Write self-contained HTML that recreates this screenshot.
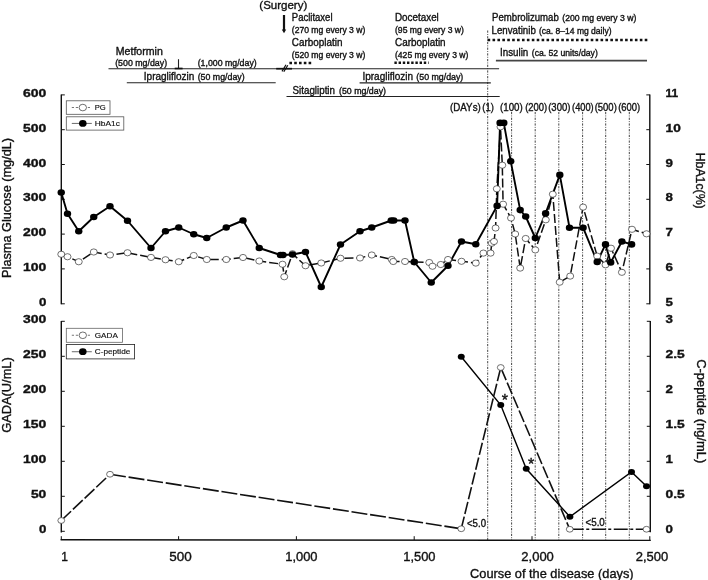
<!DOCTYPE html>
<html lang="en"><head><meta charset="utf-8"><title>Course of the disease</title>
<style>html,body{margin:0;padding:0;background:#fff;}svg{display:block;}text{font-family:"Liberation Sans", sans-serif;fill:#111;stroke:#111;stroke-width:0.35px;}</style>
</head><body>
<svg width="708" height="580" viewBox="0 0 708 580">
<rect width="708" height="580" fill="#fff"/>
<line x1="487.7" y1="30.5" x2="487.7" y2="540" stroke="#222" stroke-width="0.85" stroke-dasharray="2.2 1.3 0.9 1.3"/>
<line x1="511.6" y1="112" x2="511.6" y2="540" stroke="#222" stroke-width="0.85" stroke-dasharray="2.2 1.3 0.9 1.3"/>
<line x1="535.2" y1="112" x2="535.2" y2="540" stroke="#222" stroke-width="0.85" stroke-dasharray="2.2 1.3 0.9 1.3"/>
<line x1="558.8" y1="112" x2="558.8" y2="540" stroke="#222" stroke-width="0.85" stroke-dasharray="2.2 1.3 0.9 1.3"/>
<line x1="582.6" y1="112" x2="582.6" y2="540" stroke="#222" stroke-width="0.85" stroke-dasharray="2.2 1.3 0.9 1.3"/>
<line x1="605.7" y1="112" x2="605.7" y2="540" stroke="#222" stroke-width="0.85" stroke-dasharray="2.2 1.3 0.9 1.3"/>
<line x1="629.3" y1="112" x2="629.3" y2="540" stroke="#222" stroke-width="0.85" stroke-dasharray="2.2 1.3 0.9 1.3"/>
<path d="M61.3 94.4 V304.3" stroke="#111" stroke-width="1.4" fill="none"/>
<path d="M61.3 94.9 h3.5" stroke="#111" stroke-width="1" />
<path d="M61.3 129.7 h3.5" stroke="#111" stroke-width="1" />
<path d="M61.3 164.5 h3.5" stroke="#111" stroke-width="1" />
<path d="M61.3 199.3 h3.5" stroke="#111" stroke-width="1" />
<path d="M61.3 234.1 h3.5" stroke="#111" stroke-width="1" />
<path d="M61.3 268.9 h3.5" stroke="#111" stroke-width="1" />
<path d="M61.3 303.8 h3.5" stroke="#111" stroke-width="1" />
<path d="M649.8 94.4 V304.3" stroke="#111" stroke-width="1.4" fill="none"/>
<path d="M649.8 94.9 h-3.5" stroke="#111" stroke-width="1" />
<path d="M649.8 129.7 h-3.5" stroke="#111" stroke-width="1" />
<path d="M649.8 164.5 h-3.5" stroke="#111" stroke-width="1" />
<path d="M649.8 199.3 h-3.5" stroke="#111" stroke-width="1" />
<path d="M649.8 234.1 h-3.5" stroke="#111" stroke-width="1" />
<path d="M649.8 268.9 h-3.5" stroke="#111" stroke-width="1" />
<path d="M649.8 303.8 h-3.5" stroke="#111" stroke-width="1" />
<path d="M61.3 321 V532.5" stroke="#111" stroke-width="1.4" fill="none"/>
<path d="M61.3 321.3 h3.5" stroke="#111" stroke-width="1" />
<path d="M61.3 356.3 h3.5" stroke="#111" stroke-width="1" />
<path d="M61.3 391.3 h3.5" stroke="#111" stroke-width="1" />
<path d="M61.3 426.3 h3.5" stroke="#111" stroke-width="1" />
<path d="M61.3 461.3 h3.5" stroke="#111" stroke-width="1" />
<path d="M61.3 496.3 h3.5" stroke="#111" stroke-width="1" />
<path d="M61.3 531.3 h3.5" stroke="#111" stroke-width="1" />
<path d="M650.3 321 V532.3" stroke="#111" stroke-width="1.4" fill="none"/>
<path d="M650.3 321.3 h-3.5" stroke="#111" stroke-width="1" />
<path d="M650.3 356.3 h-3.5" stroke="#111" stroke-width="1" />
<path d="M650.3 391.3 h-3.5" stroke="#111" stroke-width="1" />
<path d="M650.3 426.3 h-3.5" stroke="#111" stroke-width="1" />
<path d="M650.3 461.3 h-3.5" stroke="#111" stroke-width="1" />
<path d="M650.3 496.3 h-3.5" stroke="#111" stroke-width="1" />
<path d="M650.3 531.3 h-3.5" stroke="#111" stroke-width="1" />
<path d="M60.6 539.7 L650.8 540.4" stroke="#111" stroke-width="1.4" fill="none"/>
<path d="M61.3 540 v-3.8" stroke="#111" stroke-width="1" />
<path d="M178.6 540 v-3.8" stroke="#111" stroke-width="1" />
<path d="M296.4 540 v-3.8" stroke="#111" stroke-width="1" />
<path d="M414.2 540 v-3.8" stroke="#111" stroke-width="1" />
<path d="M532.0 540 v-3.8" stroke="#111" stroke-width="1" />
<path d="M649.8 540 v-3.8" stroke="#111" stroke-width="1" />
<text x="46.3" y="96.9" font-size="11.2" font-weight="bold" text-anchor="end" textLength="23.3" lengthAdjust="spacingAndGlyphs">600</text>
<text x="46.3" y="131.7" font-size="11.2" font-weight="bold" text-anchor="end" textLength="23.3" lengthAdjust="spacingAndGlyphs">500</text>
<text x="46.3" y="166.5" font-size="11.2" font-weight="bold" text-anchor="end" textLength="23.3" lengthAdjust="spacingAndGlyphs">400</text>
<text x="46.3" y="201.3" font-size="11.2" font-weight="bold" text-anchor="end" textLength="23.3" lengthAdjust="spacingAndGlyphs">300</text>
<text x="46.3" y="236.1" font-size="11.2" font-weight="bold" text-anchor="end" textLength="23.3" lengthAdjust="spacingAndGlyphs">200</text>
<text x="46.3" y="270.9" font-size="11.2" font-weight="bold" text-anchor="end" textLength="23.3" lengthAdjust="spacingAndGlyphs">100</text>
<text x="46.3" y="305.8" font-size="11.2" font-weight="bold" text-anchor="end" textLength="7.4" lengthAdjust="spacingAndGlyphs">0</text>
<text x="665.6" y="96.9" font-size="10.8" font-weight="bold" text-anchor="start" textLength="12.6" lengthAdjust="spacingAndGlyphs">11</text>
<text x="665.6" y="131.7" font-size="10.8" font-weight="bold" text-anchor="start" textLength="15.2" lengthAdjust="spacingAndGlyphs">10</text>
<text x="665.6" y="166.5" font-size="10.8" font-weight="bold" text-anchor="start" textLength="7.4" lengthAdjust="spacingAndGlyphs">9</text>
<text x="665.6" y="201.3" font-size="10.8" font-weight="bold" text-anchor="start" textLength="7.4" lengthAdjust="spacingAndGlyphs">8</text>
<text x="665.6" y="236.1" font-size="10.8" font-weight="bold" text-anchor="start" textLength="7.4" lengthAdjust="spacingAndGlyphs">7</text>
<text x="665.6" y="270.9" font-size="10.8" font-weight="bold" text-anchor="start" textLength="7.4" lengthAdjust="spacingAndGlyphs">6</text>
<text x="665.6" y="305.8" font-size="10.8" font-weight="bold" text-anchor="start" textLength="7.4" lengthAdjust="spacingAndGlyphs">5</text>
<text x="46.3" y="323.2" font-size="11.2" font-weight="bold" text-anchor="end" textLength="23.3" lengthAdjust="spacingAndGlyphs">300</text>
<text x="46.3" y="358.2" font-size="11.2" font-weight="bold" text-anchor="end" textLength="23.3" lengthAdjust="spacingAndGlyphs">250</text>
<text x="46.3" y="393.2" font-size="11.2" font-weight="bold" text-anchor="end" textLength="23.3" lengthAdjust="spacingAndGlyphs">200</text>
<text x="46.3" y="428.2" font-size="11.2" font-weight="bold" text-anchor="end" textLength="23.3" lengthAdjust="spacingAndGlyphs">150</text>
<text x="46.3" y="463.2" font-size="11.2" font-weight="bold" text-anchor="end" textLength="23.3" lengthAdjust="spacingAndGlyphs">100</text>
<text x="46.3" y="498.2" font-size="11.2" font-weight="bold" text-anchor="end" textLength="15.4" lengthAdjust="spacingAndGlyphs">50</text>
<text x="46.3" y="533.2" font-size="11.2" font-weight="bold" text-anchor="end" textLength="7.4" lengthAdjust="spacingAndGlyphs">0</text>
<text x="665.6" y="322.8" font-size="10.8" font-weight="bold" text-anchor="start" textLength="7.4" lengthAdjust="spacingAndGlyphs">3</text>
<text x="665.6" y="357.8" font-size="10.8" font-weight="bold" text-anchor="start" textLength="19.2" lengthAdjust="spacingAndGlyphs">2.5</text>
<text x="665.6" y="392.8" font-size="10.8" font-weight="bold" text-anchor="start" textLength="7.4" lengthAdjust="spacingAndGlyphs">2</text>
<text x="665.6" y="427.8" font-size="10.8" font-weight="bold" text-anchor="start" textLength="19.2" lengthAdjust="spacingAndGlyphs">1.5</text>
<text x="665.6" y="462.8" font-size="10.8" font-weight="bold" text-anchor="start" textLength="7.4" lengthAdjust="spacingAndGlyphs">1</text>
<text x="665.6" y="497.8" font-size="10.8" font-weight="bold" text-anchor="start" textLength="19.2" lengthAdjust="spacingAndGlyphs">0.5</text>
<text x="665.6" y="532.8" font-size="10.8" font-weight="bold" text-anchor="start" textLength="7.4" lengthAdjust="spacingAndGlyphs">0</text>
<text x="64.7" y="560.6" font-size="12" font-weight="normal" text-anchor="middle">1</text>
<text x="180.4" y="560.6" font-size="12" font-weight="normal" text-anchor="middle" textLength="22.5" lengthAdjust="spacingAndGlyphs">500</text>
<text x="301.4" y="560.6" font-size="12" font-weight="normal" text-anchor="middle" textLength="32.3" lengthAdjust="spacingAndGlyphs">1,000</text>
<text x="419.4" y="560.6" font-size="12" font-weight="normal" text-anchor="middle" textLength="32.3" lengthAdjust="spacingAndGlyphs">1,500</text>
<text x="537.6" y="560.6" font-size="12" font-weight="normal" text-anchor="middle" textLength="32.5" lengthAdjust="spacingAndGlyphs">2,000</text>
<text x="652.0" y="560.6" font-size="12" font-weight="normal" text-anchor="middle" textLength="32.5" lengthAdjust="spacingAndGlyphs">2,500</text>
<text x="551.8" y="577.8" font-size="12.8" font-weight="normal" text-anchor="middle" textLength="163.5" lengthAdjust="spacingAndGlyphs">Course of the disease (days)</text>
<text transform="translate(10.7 207.9) rotate(-90)" font-size="12.4" text-anchor="middle" textLength="140" lengthAdjust="spacingAndGlyphs">Plasma Glucose (mg/dL)</text>
<text transform="translate(10.8 395) rotate(-90)" font-size="13" text-anchor="middle" textLength="75.5" lengthAdjust="spacingAndGlyphs">GADA(U/mL)</text>
<text transform="translate(695.8 180.7) rotate(90)" font-size="12" text-anchor="middle" textLength="56" lengthAdjust="spacingAndGlyphs">HbA1c(%)</text>
<text transform="translate(696.6 411.2) rotate(90)" font-size="12" text-anchor="middle" textLength="104" lengthAdjust="spacingAndGlyphs">C-peptide (ng/mL)</text>
<polyline points="61.25,254.25 67.50,256.75 78.75,261.75 93.75,252.00 110.00,255.00 127.50,252.75 151.00,257.40 165.50,259.75 178.75,261.75 193.75,255.50 206.75,259.50 226.25,259.50 243.00,257.50 259.25,261.00 282.50,264.25 284.25,276.75 292.50,253.75 305.50,265.75 321.25,263.00 340.50,258.25 360.00,258.00 371.75,255.00 391.75,259.50 393.25,261.50 405.00,261.50 414.25,262.00 429.25,262.50 432.50,266.25 440.75,264.50 448.00,259.50 461.50,261.30 475.80,263.10 483.40,253.10 490.60,253.10 491.80,243.20 494.00,241.50 495.60,228.00 496.80,188.80 500.50,126.80 502.30,165.20 503.10,204.20 511.00,218.00 515.20,234.00 520.20,268.10 525.70,238.50 535.30,249.90 545.80,219.80 552.80,194.20 559.70,282.20 570.20,276.10 583.10,207.10 597.20,256.10 605.50,264.80 611.00,248.20 621.90,272.30 632.00,229.30 646.50,233.80" fill="none" stroke="#111" stroke-width="1.5" stroke-dasharray="9 3"/>
<polyline points="61.25,192.50 67.50,213.75 78.75,231.25 93.75,217.00 110.00,206.25 127.50,220.75 151.00,248.00 165.50,231.25 178.75,227.50 193.75,234.25 206.75,238.00 226.25,227.50 243.00,220.50 259.25,248.00 280.50,255.00 283.00,255.00 292.50,254.50 305.50,252.00 321.25,287.00 340.50,244.50 360.00,231.25 371.75,227.50 391.25,220.50 393.75,220.50 405.00,220.50 414.25,262.00 431.25,282.50 448.00,265.75 461.50,241.50 475.80,244.20 497.10,205.90 500.10,122.90 503.80,122.90 510.70,161.20 520.20,210.10 525.70,216.50 535.30,238.00 545.60,213.40 559.80,174.90 569.50,227.70 583.10,227.70 597.20,261.90 605.50,244.40 610.70,262.40 621.90,241.50 631.60,244.40" fill="none" stroke="#000" stroke-width="1.9" stroke-linejoin="round"/>
<ellipse cx="61.25" cy="254.25" rx="3.5" ry="3.1" fill="#fff" stroke="#333" stroke-width="0.7"/>
<ellipse cx="67.5" cy="256.75" rx="3.5" ry="3.1" fill="#fff" stroke="#333" stroke-width="0.7"/>
<ellipse cx="78.75" cy="261.75" rx="3.5" ry="3.1" fill="#fff" stroke="#333" stroke-width="0.7"/>
<ellipse cx="93.75" cy="252" rx="3.5" ry="3.1" fill="#fff" stroke="#333" stroke-width="0.7"/>
<ellipse cx="110" cy="255" rx="3.5" ry="3.1" fill="#fff" stroke="#333" stroke-width="0.7"/>
<ellipse cx="127.5" cy="252.75" rx="3.5" ry="3.1" fill="#fff" stroke="#333" stroke-width="0.7"/>
<ellipse cx="151" cy="257.4" rx="3.5" ry="3.1" fill="#fff" stroke="#333" stroke-width="0.7"/>
<ellipse cx="165.5" cy="259.75" rx="3.5" ry="3.1" fill="#fff" stroke="#333" stroke-width="0.7"/>
<ellipse cx="178.75" cy="261.75" rx="3.5" ry="3.1" fill="#fff" stroke="#333" stroke-width="0.7"/>
<ellipse cx="193.75" cy="255.5" rx="3.5" ry="3.1" fill="#fff" stroke="#333" stroke-width="0.7"/>
<ellipse cx="206.75" cy="259.5" rx="3.5" ry="3.1" fill="#fff" stroke="#333" stroke-width="0.7"/>
<ellipse cx="226.25" cy="259.5" rx="3.5" ry="3.1" fill="#fff" stroke="#333" stroke-width="0.7"/>
<ellipse cx="243" cy="257.5" rx="3.5" ry="3.1" fill="#fff" stroke="#333" stroke-width="0.7"/>
<ellipse cx="259.25" cy="261" rx="3.5" ry="3.1" fill="#fff" stroke="#333" stroke-width="0.7"/>
<ellipse cx="282.5" cy="264.25" rx="3.5" ry="3.1" fill="#fff" stroke="#333" stroke-width="0.7"/>
<ellipse cx="284.25" cy="276.75" rx="3.5" ry="3.1" fill="#fff" stroke="#333" stroke-width="0.7"/>
<ellipse cx="292.5" cy="253.75" rx="3.5" ry="3.1" fill="#fff" stroke="#333" stroke-width="0.7"/>
<ellipse cx="305.5" cy="265.75" rx="3.5" ry="3.1" fill="#fff" stroke="#333" stroke-width="0.7"/>
<ellipse cx="321.25" cy="263" rx="3.5" ry="3.1" fill="#fff" stroke="#333" stroke-width="0.7"/>
<ellipse cx="340.5" cy="258.25" rx="3.5" ry="3.1" fill="#fff" stroke="#333" stroke-width="0.7"/>
<ellipse cx="360" cy="258" rx="3.5" ry="3.1" fill="#fff" stroke="#333" stroke-width="0.7"/>
<ellipse cx="371.75" cy="255" rx="3.5" ry="3.1" fill="#fff" stroke="#333" stroke-width="0.7"/>
<ellipse cx="391.75" cy="259.5" rx="3.5" ry="3.1" fill="#fff" stroke="#333" stroke-width="0.7"/>
<ellipse cx="393.25" cy="261.5" rx="3.5" ry="3.1" fill="#fff" stroke="#333" stroke-width="0.7"/>
<ellipse cx="405" cy="261.5" rx="3.5" ry="3.1" fill="#fff" stroke="#333" stroke-width="0.7"/>
<ellipse cx="414.25" cy="262" rx="3.5" ry="3.1" fill="#fff" stroke="#333" stroke-width="0.7"/>
<ellipse cx="429.25" cy="262.5" rx="3.5" ry="3.1" fill="#fff" stroke="#333" stroke-width="0.7"/>
<ellipse cx="432.5" cy="266.25" rx="3.5" ry="3.1" fill="#fff" stroke="#333" stroke-width="0.7"/>
<ellipse cx="440.75" cy="264.5" rx="3.5" ry="3.1" fill="#fff" stroke="#333" stroke-width="0.7"/>
<ellipse cx="448" cy="259.5" rx="3.5" ry="3.1" fill="#fff" stroke="#333" stroke-width="0.7"/>
<ellipse cx="461.5" cy="261.3" rx="3.5" ry="3.1" fill="#fff" stroke="#333" stroke-width="0.7"/>
<ellipse cx="475.8" cy="263.1" rx="3.5" ry="3.1" fill="#fff" stroke="#333" stroke-width="0.7"/>
<ellipse cx="483.4" cy="253.1" rx="3.5" ry="3.1" fill="#fff" stroke="#333" stroke-width="0.7"/>
<ellipse cx="490.6" cy="253.1" rx="3.5" ry="3.1" fill="#fff" stroke="#333" stroke-width="0.7"/>
<ellipse cx="491.8" cy="243.2" rx="3.5" ry="3.1" fill="#fff" stroke="#333" stroke-width="0.7"/>
<ellipse cx="494" cy="241.5" rx="3.5" ry="3.1" fill="#fff" stroke="#333" stroke-width="0.7"/>
<ellipse cx="495.6" cy="228" rx="3.5" ry="3.1" fill="#fff" stroke="#333" stroke-width="0.7"/>
<ellipse cx="496.8" cy="188.8" rx="3.5" ry="3.1" fill="#fff" stroke="#333" stroke-width="0.7"/>
<ellipse cx="500.5" cy="126.8" rx="3.5" ry="3.1" fill="#fff" stroke="#333" stroke-width="0.7"/>
<ellipse cx="502.3" cy="165.2" rx="3.5" ry="3.1" fill="#fff" stroke="#333" stroke-width="0.7"/>
<ellipse cx="503.1" cy="204.2" rx="3.5" ry="3.1" fill="#fff" stroke="#333" stroke-width="0.7"/>
<ellipse cx="511" cy="218" rx="3.5" ry="3.1" fill="#fff" stroke="#333" stroke-width="0.7"/>
<ellipse cx="515.2" cy="234" rx="3.5" ry="3.1" fill="#fff" stroke="#333" stroke-width="0.7"/>
<ellipse cx="520.2" cy="268.1" rx="3.5" ry="3.1" fill="#fff" stroke="#333" stroke-width="0.7"/>
<ellipse cx="525.7" cy="238.5" rx="3.5" ry="3.1" fill="#fff" stroke="#333" stroke-width="0.7"/>
<ellipse cx="535.3" cy="249.9" rx="3.5" ry="3.1" fill="#fff" stroke="#333" stroke-width="0.7"/>
<ellipse cx="545.8" cy="219.8" rx="3.5" ry="3.1" fill="#fff" stroke="#333" stroke-width="0.7"/>
<ellipse cx="552.8" cy="194.2" rx="3.5" ry="3.1" fill="#fff" stroke="#333" stroke-width="0.7"/>
<ellipse cx="559.7" cy="282.2" rx="3.5" ry="3.1" fill="#fff" stroke="#333" stroke-width="0.7"/>
<ellipse cx="570.2" cy="276.1" rx="3.5" ry="3.1" fill="#fff" stroke="#333" stroke-width="0.7"/>
<ellipse cx="583.1" cy="207.1" rx="3.5" ry="3.1" fill="#fff" stroke="#333" stroke-width="0.7"/>
<ellipse cx="597.2" cy="256.1" rx="3.5" ry="3.1" fill="#fff" stroke="#333" stroke-width="0.7"/>
<ellipse cx="605.5" cy="264.8" rx="3.5" ry="3.1" fill="#fff" stroke="#333" stroke-width="0.7"/>
<ellipse cx="611" cy="248.2" rx="3.5" ry="3.1" fill="#fff" stroke="#333" stroke-width="0.7"/>
<ellipse cx="621.9" cy="272.3" rx="3.5" ry="3.1" fill="#fff" stroke="#333" stroke-width="0.7"/>
<ellipse cx="632" cy="229.3" rx="3.5" ry="3.1" fill="#fff" stroke="#333" stroke-width="0.7"/>
<ellipse cx="646.5" cy="233.8" rx="3.5" ry="3.1" fill="#fff" stroke="#333" stroke-width="0.7"/>
<ellipse cx="61.25" cy="192.5" rx="3.7" ry="3.3" fill="#000"/>
<ellipse cx="67.5" cy="213.75" rx="3.7" ry="3.3" fill="#000"/>
<ellipse cx="78.75" cy="231.25" rx="3.7" ry="3.3" fill="#000"/>
<ellipse cx="93.75" cy="217" rx="3.7" ry="3.3" fill="#000"/>
<ellipse cx="110" cy="206.25" rx="3.7" ry="3.3" fill="#000"/>
<ellipse cx="127.5" cy="220.75" rx="3.7" ry="3.3" fill="#000"/>
<ellipse cx="151" cy="248" rx="3.7" ry="3.3" fill="#000"/>
<ellipse cx="165.5" cy="231.25" rx="3.7" ry="3.3" fill="#000"/>
<ellipse cx="178.75" cy="227.5" rx="3.7" ry="3.3" fill="#000"/>
<ellipse cx="193.75" cy="234.25" rx="3.7" ry="3.3" fill="#000"/>
<ellipse cx="206.75" cy="238" rx="3.7" ry="3.3" fill="#000"/>
<ellipse cx="226.25" cy="227.5" rx="3.7" ry="3.3" fill="#000"/>
<ellipse cx="243" cy="220.5" rx="3.7" ry="3.3" fill="#000"/>
<ellipse cx="259.25" cy="248" rx="3.7" ry="3.3" fill="#000"/>
<ellipse cx="280.5" cy="255" rx="3.7" ry="3.3" fill="#000"/>
<ellipse cx="283" cy="255" rx="3.7" ry="3.3" fill="#000"/>
<ellipse cx="292.5" cy="254.5" rx="3.7" ry="3.3" fill="#000"/>
<ellipse cx="305.5" cy="252" rx="3.7" ry="3.3" fill="#000"/>
<ellipse cx="321.25" cy="287" rx="3.7" ry="3.3" fill="#000"/>
<ellipse cx="340.5" cy="244.5" rx="3.7" ry="3.3" fill="#000"/>
<ellipse cx="360" cy="231.25" rx="3.7" ry="3.3" fill="#000"/>
<ellipse cx="371.75" cy="227.5" rx="3.7" ry="3.3" fill="#000"/>
<ellipse cx="391.25" cy="220.5" rx="3.7" ry="3.3" fill="#000"/>
<ellipse cx="393.75" cy="220.5" rx="3.7" ry="3.3" fill="#000"/>
<ellipse cx="405" cy="220.5" rx="3.7" ry="3.3" fill="#000"/>
<ellipse cx="414.25" cy="262" rx="3.7" ry="3.3" fill="#000"/>
<ellipse cx="431.25" cy="282.5" rx="3.7" ry="3.3" fill="#000"/>
<ellipse cx="448" cy="265.75" rx="3.7" ry="3.3" fill="#000"/>
<ellipse cx="461.5" cy="241.5" rx="3.7" ry="3.3" fill="#000"/>
<ellipse cx="475.8" cy="244.2" rx="3.7" ry="3.3" fill="#000"/>
<ellipse cx="497.1" cy="205.9" rx="3.7" ry="3.3" fill="#000"/>
<ellipse cx="500.1" cy="122.9" rx="3.7" ry="3.3" fill="#000"/>
<ellipse cx="503.8" cy="122.9" rx="3.7" ry="3.3" fill="#000"/>
<ellipse cx="510.7" cy="161.2" rx="3.7" ry="3.3" fill="#000"/>
<ellipse cx="520.2" cy="210.1" rx="3.7" ry="3.3" fill="#000"/>
<ellipse cx="525.7" cy="216.5" rx="3.7" ry="3.3" fill="#000"/>
<ellipse cx="535.3" cy="238" rx="3.7" ry="3.3" fill="#000"/>
<ellipse cx="545.6" cy="213.4" rx="3.7" ry="3.3" fill="#000"/>
<ellipse cx="559.8" cy="174.9" rx="3.7" ry="3.3" fill="#000"/>
<ellipse cx="569.5" cy="227.7" rx="3.7" ry="3.3" fill="#000"/>
<ellipse cx="583.1" cy="227.7" rx="3.7" ry="3.3" fill="#000"/>
<ellipse cx="597.2" cy="261.9" rx="3.7" ry="3.3" fill="#000"/>
<ellipse cx="605.5" cy="244.4" rx="3.7" ry="3.3" fill="#000"/>
<ellipse cx="610.7" cy="262.4" rx="3.7" ry="3.3" fill="#000"/>
<ellipse cx="621.9" cy="241.5" rx="3.7" ry="3.3" fill="#000"/>
<ellipse cx="631.6" cy="244.4" rx="3.7" ry="3.3" fill="#000"/>
<polyline points="61.25,520.50 110.00,474.25" fill="none" stroke="#111" stroke-width="1.6" stroke-dasharray="13.5 2.6"/>
<polyline points="110.00,474.25 461.25,528.75" fill="none" stroke="#111" stroke-width="1.6" stroke-dasharray="16 2.8"/>
<polyline points="461.25,528.75 500.75,367.50 569.75,529.25" fill="none" stroke="#111" stroke-width="1.6" stroke-dasharray="12.5 2.7"/>
<polyline points="569.75,529.25 646.50,529.25" fill="none" stroke="#111" stroke-width="1.6" stroke-dasharray="14 2.5 3 2.5"/>
<polyline points="461.25,356.75 500.75,405.00 526.25,468.75 569.90,516.75 631.50,472.00 646.50,486.25" fill="none" stroke="#000" stroke-width="1.4"/>
<ellipse cx="461.25" cy="356.75" rx="3.5" ry="2.9" fill="#000"/>
<ellipse cx="500.75" cy="405" rx="3.5" ry="2.9" fill="#000"/>
<ellipse cx="526.25" cy="468.75" rx="3.5" ry="2.9" fill="#000"/>
<ellipse cx="569.9" cy="516.75" rx="3.5" ry="2.9" fill="#000"/>
<ellipse cx="631.5" cy="472" rx="3.5" ry="2.9" fill="#000"/>
<ellipse cx="646.5" cy="486.25" rx="3.5" ry="2.9" fill="#000"/>
<ellipse cx="61.25" cy="520.5" rx="3.4" ry="2.9" fill="#fff" stroke="#333" stroke-width="0.7"/>
<ellipse cx="110" cy="474.25" rx="3.4" ry="2.9" fill="#fff" stroke="#333" stroke-width="0.7"/>
<ellipse cx="461.25" cy="528.75" rx="3.4" ry="2.9" fill="#fff" stroke="#333" stroke-width="0.7"/>
<ellipse cx="500.75" cy="367.5" rx="3.4" ry="2.9" fill="#fff" stroke="#333" stroke-width="0.7"/>
<ellipse cx="569.75" cy="529.25" rx="3.4" ry="2.9" fill="#fff" stroke="#333" stroke-width="0.7"/>
<ellipse cx="646.5" cy="529.25" rx="3.4" ry="2.9" fill="#fff" stroke="#333" stroke-width="0.7"/>
<text x="467.0" y="527.3" font-size="10.3" font-weight="normal" text-anchor="start" textLength="19.0" lengthAdjust="spacingAndGlyphs">&lt;5.0</text>
<text x="585.5" y="526.2" font-size="10.3" font-weight="normal" text-anchor="start" textLength="19.3" lengthAdjust="spacingAndGlyphs">&lt;5.0</text>
<text x="504.8" y="405.6" font-size="16" font-weight="normal" text-anchor="middle">*</text>
<text x="531.2" y="469.6" font-size="16" font-weight="normal" text-anchor="middle">*</text>
<rect x="66.3" y="100.8" width="43.7" height="13.5" fill="#fff" stroke="#555" stroke-width="0.8"/>
<line x1="71.8" y1="107.55" x2="91.8" y2="107.55" stroke="#777" stroke-width="1.1" stroke-dasharray="2.2 1.8"/>
<ellipse cx="82.8" cy="107.55" rx="3.7" ry="3.3" fill="#fff" stroke="#333" stroke-width="0.7"/>
<text x="94.8" y="110.1" font-size="7.2" font-weight="normal" text-anchor="start" textLength="11.0" lengthAdjust="spacingAndGlyphs" style="stroke-width:0.15px">PG</text>
<rect x="66.3" y="116.8" width="57.5" height="13.3" fill="#fff" stroke="#555" stroke-width="0.8"/>
<line x1="71.8" y1="123.45" x2="91.8" y2="123.45" stroke="#777" stroke-width="1.1"/>
<ellipse cx="82.8" cy="123.45" rx="3.8" ry="3.4" fill="#000"/>
<text x="94.8" y="126.0" font-size="7.2" font-weight="normal" text-anchor="start" textLength="25.0" lengthAdjust="spacingAndGlyphs" style="stroke-width:0.15px">HbA1c</text>
<rect x="66.3" y="328.3" width="56.2" height="14.0" fill="#fff" stroke="#666" stroke-width="0.8"/>
<line x1="71.8" y1="335.3" x2="91.8" y2="335.3" stroke="#777" stroke-width="1.1" stroke-dasharray="2.2 1.8"/>
<ellipse cx="82.8" cy="335.3" rx="3.7" ry="3.3" fill="#fff" stroke="#333" stroke-width="0.7"/>
<text x="94.8" y="337.9" font-size="7.2" font-weight="normal" text-anchor="start" textLength="23.0" lengthAdjust="spacingAndGlyphs" style="stroke-width:0.15px">GADA</text>
<rect x="66.3" y="344.5" width="68.3" height="14.4" fill="#fff" stroke="#222" stroke-width="0.8"/>
<line x1="71.8" y1="351.7" x2="91.8" y2="351.7" stroke="#777" stroke-width="1.1"/>
<ellipse cx="82.8" cy="351.7" rx="3.8" ry="3.4" fill="#000"/>
<text x="94.8" y="354.3" font-size="7.2" font-weight="normal" text-anchor="start" textLength="35.5" lengthAdjust="spacingAndGlyphs" style="stroke-width:0.15px">C-peptide</text>
<line x1="108.5" y1="68.7" x2="499.1" y2="68.7" stroke="#222" stroke-width="1.1"/>
<line x1="276.2" y1="68.7" x2="292" y2="68.7" stroke="#111" stroke-width="1.7"/>
<path d="M178.5 59.2 V68.6" stroke="#222" stroke-width="1.1" fill="none"/>
<path d="M174.7 68.5 H182.6" stroke="#111" stroke-width="1.7" fill="none"/>
<path d="M282 71.4 l4 -6.6 M283.8 71.8 l4 -6.6" stroke="#111" stroke-width="1.2" fill="none"/>
<line x1="126.8" y1="82.8" x2="275.7" y2="82.8" stroke="#222" stroke-width="1.1"/>
<line x1="359.6" y1="82.9" x2="490.8" y2="82.9" stroke="#222" stroke-width="1.1"/>
<line x1="286.5" y1="96.5" x2="499.7" y2="96.5" stroke="#222" stroke-width="1.1"/>
<line x1="495.9" y1="60.7" x2="647" y2="60.7" stroke="#444" stroke-width="1.7"/>
<line x1="289.4" y1="63.1" x2="311.2" y2="63.1" stroke="#111" stroke-width="2.5" stroke-dasharray="2.6 2.2"/>
<line x1="394.4" y1="62.7" x2="428.6" y2="62.7" stroke="#111" stroke-width="2.5" stroke-dasharray="2.4 1.8"/>
<line x1="487.6" y1="40" x2="647.6" y2="40" stroke="#111" stroke-width="2.6" stroke-dasharray="2.6 2.31"/>
<path d="M284 15 V30.5" stroke="#111" stroke-width="2.2" fill="none"/>
<path d="M281.8 29.6 H286.2 L284 33.3 Z" fill="#111"/>
<text x="259.3" y="9.2" font-size="11.7" font-weight="normal" text-anchor="start" textLength="48.0" lengthAdjust="spacingAndGlyphs">(Surgery)</text>
<text x="115.8" y="54.8" font-size="10.1" font-weight="normal" text-anchor="start" textLength="47.0" lengthAdjust="spacingAndGlyphs">Metformin</text>
<text x="115.2" y="65.8" font-size="8.4" font-weight="normal" text-anchor="start" textLength="51.9" lengthAdjust="spacingAndGlyphs">(500 mg/day)</text>
<text x="197.7" y="65.8" font-size="8.4" font-weight="normal" text-anchor="start" textLength="59.0" lengthAdjust="spacingAndGlyphs">(1,000 mg/day)</text>
<text x="143.8" y="79.6" font-size="10.1" font-weight="normal" text-anchor="start" textLength="50.6" lengthAdjust="spacingAndGlyphs">Ipragliflozin</text>
<text x="197.7" y="79.6" font-size="8.4" font-weight="normal" text-anchor="start" textLength="47.0" lengthAdjust="spacingAndGlyphs">(50 mg/day)</text>
<text x="362.4" y="79.6" font-size="10.1" font-weight="normal" text-anchor="start" textLength="50.6" lengthAdjust="spacingAndGlyphs">Ipragliflozin</text>
<text x="416.3" y="79.6" font-size="8.4" font-weight="normal" text-anchor="start" textLength="47.0" lengthAdjust="spacingAndGlyphs">(50 mg/day)</text>
<text x="292.6" y="93.8" font-size="10.1" font-weight="normal" text-anchor="start" textLength="42.4" lengthAdjust="spacingAndGlyphs">Sitagliptin</text>
<text x="339.0" y="93.8" font-size="8.4" font-weight="normal" text-anchor="start" textLength="47.0" lengthAdjust="spacingAndGlyphs">(50 mg/day)</text>
<text x="291.8" y="21.4" font-size="10.1" font-weight="normal" text-anchor="start" textLength="40.7" lengthAdjust="spacingAndGlyphs">Paclitaxel</text>
<text x="291.8" y="33.1" font-size="8.4" font-weight="normal" text-anchor="start" textLength="73.5" lengthAdjust="spacingAndGlyphs">(270 mg every 3 w)</text>
<text x="291.8" y="46.0" font-size="10.1" font-weight="normal" text-anchor="start" textLength="50.6" lengthAdjust="spacingAndGlyphs">Carboplatin</text>
<text x="291.8" y="57.8" font-size="8.4" font-weight="normal" text-anchor="start" textLength="73.5" lengthAdjust="spacingAndGlyphs">(520 mg every 3 w)</text>
<text x="395.0" y="21.4" font-size="10.1" font-weight="normal" text-anchor="start" textLength="43.8" lengthAdjust="spacingAndGlyphs">Docetaxel</text>
<text x="395.0" y="33.1" font-size="8.4" font-weight="normal" text-anchor="start" textLength="68.9" lengthAdjust="spacingAndGlyphs">(95 mg every 3 w)</text>
<text x="395.0" y="46.0" font-size="10.1" font-weight="normal" text-anchor="start" textLength="50.6" lengthAdjust="spacingAndGlyphs">Carboplatin</text>
<text x="395.0" y="57.8" font-size="8.4" font-weight="normal" text-anchor="start" textLength="73.4" lengthAdjust="spacingAndGlyphs">(425 mg every 3 w)</text>
<text x="492.1" y="21.4" font-size="10.1" font-weight="normal" text-anchor="start" textLength="66.7" lengthAdjust="spacingAndGlyphs">Pembrolizumab</text>
<text x="562.3" y="21.4" font-size="8.4" font-weight="normal" text-anchor="start" textLength="74.0" lengthAdjust="spacingAndGlyphs">(200 mg every 3 w)</text>
<text x="491.6" y="33.5" font-size="10.1" font-weight="normal" text-anchor="start" textLength="44.2" lengthAdjust="spacingAndGlyphs">Lenvatinib</text>
<text x="539.0" y="33.5" font-size="8.4" font-weight="normal" text-anchor="start" textLength="72.5" lengthAdjust="spacingAndGlyphs">(ca. 8–14 mg daily)</text>
<text x="500.0" y="56.2" font-size="10.1" font-weight="normal" text-anchor="start" textLength="28.3" lengthAdjust="spacingAndGlyphs">Insulin</text>
<text x="531.8" y="56.2" font-size="8.4" font-weight="normal" text-anchor="start" textLength="66.0" lengthAdjust="spacingAndGlyphs">(ca. 52 units/day)</text>
<text x="450.0" y="111.0" font-size="10.6" font-weight="normal" text-anchor="start" textLength="30.8" lengthAdjust="spacingAndGlyphs">(DAYs)</text>
<text x="482.3" y="111.0" font-size="10.6" font-weight="normal" text-anchor="start" textLength="11.5" lengthAdjust="spacingAndGlyphs">(1)</text>
<text x="500.0" y="111.0" font-size="10.6" font-weight="normal" text-anchor="start" textLength="22.7" lengthAdjust="spacingAndGlyphs">(100)</text>
<text x="525.2" y="111.0" font-size="10.6" font-weight="normal" text-anchor="start" textLength="22.0" lengthAdjust="spacingAndGlyphs">(200)</text>
<text x="548.2" y="111.0" font-size="10.6" font-weight="normal" text-anchor="start" textLength="22.2" lengthAdjust="spacingAndGlyphs">(300)</text>
<text x="572.1" y="111.0" font-size="10.6" font-weight="normal" text-anchor="start" textLength="21.5" lengthAdjust="spacingAndGlyphs">(400)</text>
<text x="594.7" y="111.0" font-size="10.6" font-weight="normal" text-anchor="start" textLength="22.1" lengthAdjust="spacingAndGlyphs">(500)</text>
<text x="618.2" y="111.0" font-size="10.6" font-weight="normal" text-anchor="start" textLength="22.0" lengthAdjust="spacingAndGlyphs">(600)</text>
</svg></body></html>
